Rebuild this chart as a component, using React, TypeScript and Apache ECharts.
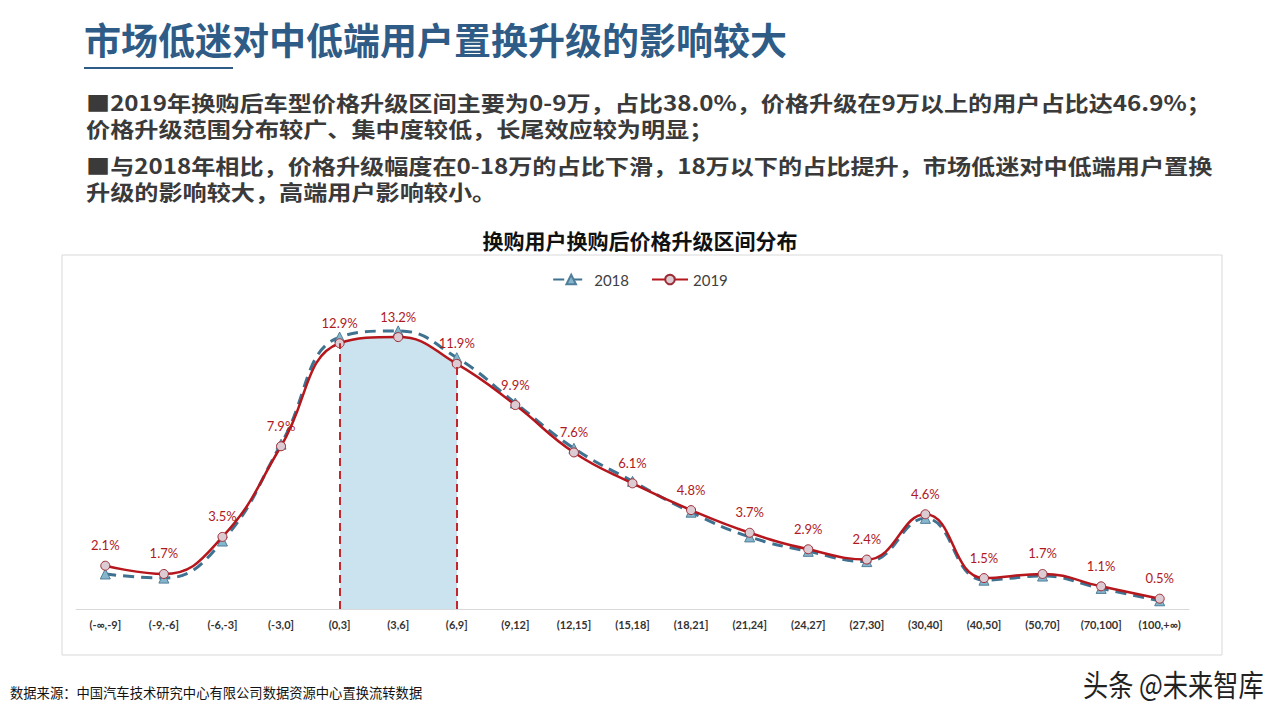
import React, { useEffect, useRef } from "react";
import * as echarts from "echarts";

// Price-upgrade bands (万元)
const categories = [
  "(-∞,-9]", "(-9,-6]", "(-6,-3]", "(-3,0]", "(0,3]", "(3,6]", "(6,9]",
  "(9,12]", "(12,15]", "(15,18]", "(18,21]", "(21,24]", "(24,27]", "(27,30]",
  "(30,40]", "(40,50]", "(50,70]", "(70,100]", "(100,+∞)",
];

// Share of users per band, %
const share2018 = [1.7, 1.5, 3.3, 8.0, 13.2, 13.5, 12.2, 10.0, 7.8, 6.2, 4.7, 3.5, 2.8, 2.3, 4.4, 1.4, 1.6, 1.0, 0.4];
const share2019 = [2.1, 1.7, 3.5, 7.9, 12.9, 13.2, 11.9, 9.9, 7.6, 6.1, 4.8, 3.7, 2.9, 2.4, 4.6, 1.5, 1.7, 1.1, 0.5];

const seriesNames = ["2018", "2019"];

// Highlighted band: (0,3] .. (6,9]
const bandStart = 4;
const bandEnd = 6;
const bandLabel = ["0-9万,", "38.0%"];

const pageTitle = "市场低迷对中低端用户置换升级的影响较大";
const paragraphs = [
  [
    "■2019年换购后车型价格升级区间主要为0-9万，占比38.0%，价格升级在9万以上的用户占比达46.9%；",
    "价格升级范围分布较广、集中度较低，长尾效应较为明显；",
  ],
  [
    "■与2018年相比，价格升级幅度在0-18万的占比下滑，18万以下的占比提升，市场低迷对中低端用户置换",
    "升级的影响较大，高端用户影响较小。",
  ],
];
const chartTitle = "换购用户换购后价格升级区间分布";
const sourceNote = "数据来源：中国汽车技术研究中心有限公司数据资源中心置换流转数据";
const watermark = "头条 @未来智库";

const CJK = '"Noto Sans CJK SC", "Noto Sans", sans-serif';
const NUM = 'Lato, "Noto Sans CJK SC", sans-serif';

export default function App() {
  const ref = useRef<HTMLDivElement>(null);

  useEffect(() => {
    if (!ref.current) return;
    document.body.style.margin = "0";
    const chart = echarts.init(ref.current, undefined, { renderer: "svg" });

    const red = "#b5171d";
    const blue = "#3f7190";

    chart.setOption({
      animation: false,
      backgroundColor: "#ffffff",
      textStyle: { fontFamily: CJK },
      legend: {
        top: 267,
        left: "center",
        data: seriesNames,
        itemWidth: 36,
        itemHeight: 12,
        itemGap: 22,
        textStyle: { fontSize: 15, color: "#404040", fontFamily: NUM },
      },
      grid: { left: 76, right: 91, top: 300, bottom: 111, containLabel: false },
      xAxis: {
        type: "category",
        data: categories,
        boundaryGap: true,
        axisLine: { lineStyle: { color: "#d9d9d9", width: 1 } },
        axisTick: { show: false },
        axisLabel: {
          interval: 0,
          margin: 10,
          fontSize: 11,
          fontWeight: "bold",
          color: "#333333",
          fontFamily: NUM,
        },
      },
      yAxis: {
        type: "value",
        min: 0,
        max: 15,
        show: false,
        splitLine: { show: false },
      },
      visualMap: {
        type: "piecewise",
        show: false,
        dimension: 0,
        seriesIndex: 2,
        pieces: [{ gte: bandStart, lte: bandEnd, color: "#cbe3ef" }],
        outOfRange: { color: "rgba(255,255,255,0)" },
      },
      series: [
        {
          name: seriesNames[0],
          type: "line",
          data: share2018,
          smooth: 0.45,
          z: 3,
          symbol: "triangle",
          symbolSize: 10,
          itemStyle: { color: "#86b6cc", borderColor: "#4f7f9a", borderWidth: 1 },
          lineStyle: { color: blue, width: 3, type: [11, 7] },
        },
        {
          name: seriesNames[1],
          type: "line",
          data: share2019,
          smooth: 0.45,
          z: 4,
          symbol: "circle",
          symbolSize: 9,
          itemStyle: { color: "#dccbd2", borderColor: "#9c2a33", borderWidth: 1 },
          lineStyle: { color: red, width: 2.5 },
          label: {
            show: true,
            position: "top",
            distance: 9,
            formatter: (p: any) => p.value.toFixed(1) + "%",
            color: "#b0191e",
            fontSize: 13,
            fontFamily: NUM,
          },
          markLine: {
            silent: true,
            symbol: "none",
            label: { show: false },
            lineStyle: { color: "#c0282d", width: 2, type: [8, 5] },
            data: [
              [{ coord: [bandStart, 0] }, { coord: [bandStart, share2019[bandStart]] }],
              [{ coord: [bandEnd, 0] }, { coord: [bandEnd, share2019[bandEnd]] }],
            ],
          },
        },
        {
          name: "0-9万",
          type: "line",
          data: share2019,
          smooth: 0.45,
          z: 1,
          symbol: "none",
          lineStyle: { width: 0, opacity: 0 },
          areaStyle: { opacity: 1 },
          silent: true,
        },
      ],
      graphic: [
        {
          type: "text",
          left: 84,
          top: 20,
          style: { text: pageTitle, font: `bold 37px ${CJK}`, fill: "#2e5c86" },
        },
        {
          type: "line",
          shape: { x1: 84, y1: 68, x2: 233, y2: 68 },
          style: { stroke: "#2e5c86", lineWidth: 2 },
        },
        ...paragraphs.map((lines, i) => ({
          type: "text",
          x: 86,
          y: [89, 152][i],
          scaleX: 1.15,
          style: {
            text: lines.join("\n"),
            font: `bold 21px ${CJK}`,
            lineHeight: 26,
            fill: "#3a3a3a",
            verticalAlign: "top",
          },
        })),
        {
          type: "rect",
          shape: { x: 62, y: 255, width: 1160, height: 400 },
          style: { fill: "none", stroke: "#d9d9d9", lineWidth: 1 },
          z: -1,
        },
        {
          type: "text",
          x: 640,
          y: 240,
          style: {
            text: chartTitle,
            font: `bold 21px ${CJK}`,
            fill: "#111111",
            align: "center",
            verticalAlign: "middle",
          },
        },
        {
          type: "group",
          z: 10,
          children: [
            {
              type: "rect",
              shape: { x: 355, y: 502, width: 86, height: 54 },
              style: { fill: "#ffffff" },
            },
            {
              type: "text",
              x: 366,
              y: 529,
              style: {
                text: bandLabel.join("\n"),
                font: `bold 19px ${NUM}`,
                lineHeight: 23,
                fill: "#000000",
                verticalAlign: "middle",
              },
            },
          ],
        },
        {
          type: "text",
          left: 10,
          top: 686,
          style: { text: sourceNote, font: `13.3px ${CJK}`, fill: "#111111" },
        },
        {
          type: "text",
          x: 1083,
          y: 683,
          scaleX: 0.84,
          style: {
            text: watermark,
            font: `30px ${CJK}`,
            fill: "#222222",
            stroke: "#ffffff",
            lineWidth: 1,
            verticalAlign: "middle",
          },
        },
      ],
    });

    return () => chart.dispose();
  }, []);

  return (
    <div
      ref={ref}
      style={{ position: "absolute", left: 0, top: 0, width: 1280, height: 720 }}
    />
  );
}
